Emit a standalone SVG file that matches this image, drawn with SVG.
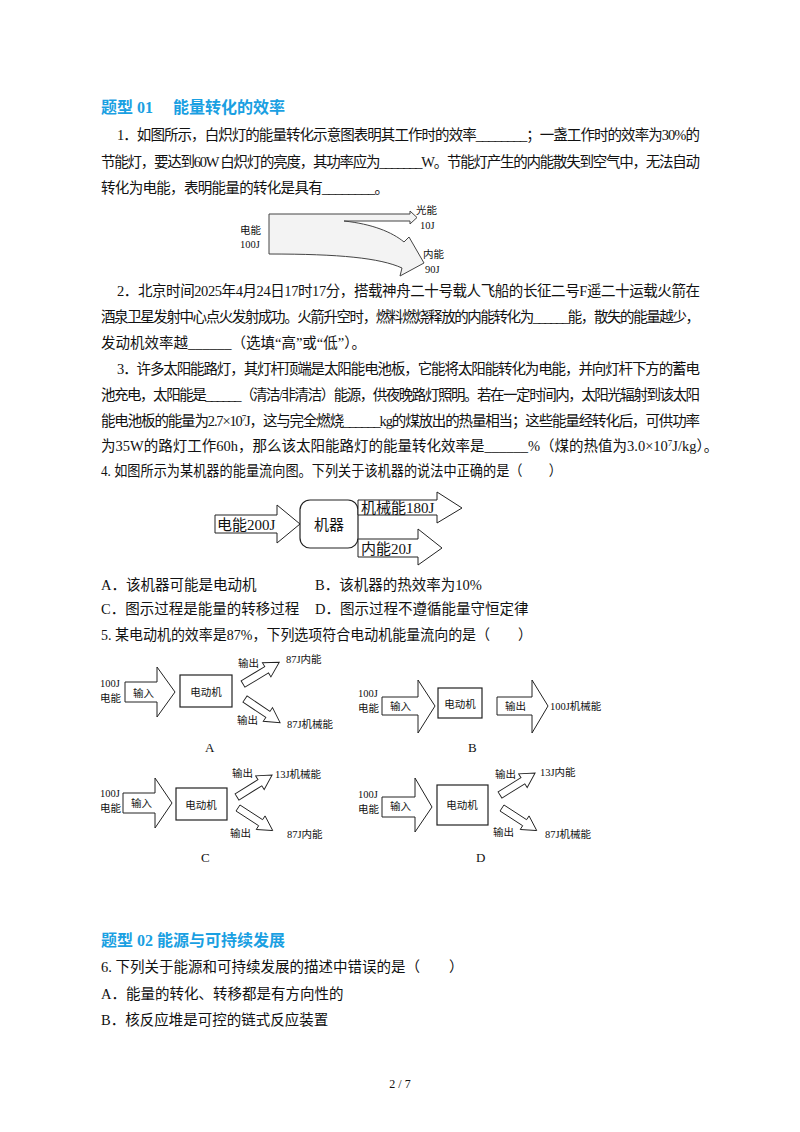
<svg xmlns="http://www.w3.org/2000/svg" xmlns:xlink="http://www.w3.org/1999/xlink" width="800" height="1132" viewBox="0 0 800 1132">
<style>
text{font-family:"Liberation Serif","Noto Sans CJK SC",serif;fill:#111}
.t{font-size:14.5px}
.h{font-size:16px;font-weight:bold;fill:#1aa0e2;font-family:"Liberation Serif","Noto Sans CJK SC",sans-serif}
.s{font-size:10.5px}
.m{font-size:15px}
.ar{fill:#fff;stroke:#222;stroke-width:1}
.bx{fill:#fff;stroke:#222;stroke-width:1.2}
</style>
<defs>
<path id="da" d="M0,-4 L30,-4 L30,-9 L46,0 L30,9 L30,4 L0,4 Z"/>
</defs>
<rect width="800" height="1132" fill="#fff"/>
<text class="h" x="101" y="113">题型 01　 能量转化的效率</text>
<text class="t" x="117" y="140" textLength="583" lengthAdjust="spacing">1．如图所示，白炽灯的能量转化示意图表明其工作时的效率________；一盏工作时的效率为30%的</text>
<text class="t" x="101" y="167" textLength="599" lengthAdjust="spacing">节能灯，要达到60W 白炽灯的亮度，其功率应为_______W。节能灯产生的内能散失到空气中，无法自动</text>
<text class="t" x="101" y="193" textLength="288" lengthAdjust="spacing">转化为电能，表明能量的转化是具有________。</text>

<g id="lamp">
<rect x="237" y="200" width="220" height="78" fill="#fff"/>
<path d="M269,214 L410,214 L410,211 L417,217.5 L410,224 L410,221 L344,221 C372,224 392,232 404,242 L409,237 L424,263 L400,276 L402,268 C380,258 340,254 269,254 Z" fill="#f3f3f3" stroke="#444" stroke-width="1"/>
<text class="s" x="240" y="234">电能</text>
<text class="s" x="240" y="248">100J</text>
<text class="s" x="416" y="214">光能</text>
<text class="s" x="420" y="229">10J</text>
<text class="s" x="423" y="258">内能</text>
<text class="s" x="425" y="273">90J</text>
</g>

<text class="t" x="117" y="296" textLength="583" lengthAdjust="spacing">2．北京时间2025年4月24日17时17分，搭载神舟二十号载人飞船的长征二号F遥二十运载火箭在</text>
<text class="t" x="101" y="322" textLength="599" lengthAdjust="spacing">酒泉卫星发射中心点火发射成功。火箭升空时，燃料燃烧释放的内能转化为______能，散失的能量越少，</text>
<text class="t" x="101" y="348">发动机效率越______（选填“高”或“低”）。</text>
<text class="t" x="117" y="374" textLength="583" lengthAdjust="spacing">3．许多太阳能路灯，其灯杆顶端是太阳能电池板，它能将太阳能转化为电能，并向灯杆下方的蓄电</text>
<text class="t" x="101" y="400" textLength="599" lengthAdjust="spacing">池充电，太阳能是______（清洁/非清洁）能源，供夜晚路灯照明。若在一定时间内，太阳光辐射到该太阳</text>
<text class="t" x="101" y="426" textLength="599" lengthAdjust="spacing">能电池板的能量为2.7×10<tspan dy="-5" font-size="9">7</tspan><tspan dy="5">J，这与完全燃烧______kg的煤放出的热量相当；这些能量经转化后，可供功率</tspan></text>
<text class="t" x="101" y="451">为35W的路灯工作60h，那么该太阳能路灯的能量转化效率是______%（煤的热值为3.0×10<tspan dy="-5" font-size="9">7</tspan><tspan dy="5">J/kg）。</tspan></text>
<text class="t" x="101" y="476" textLength="461" lengthAdjust="spacingAndGlyphs">4. 如图所示为某机器的能量流向图。下列关于该机器的说法中正确的是（　　）</text>

<g id="machine">
<path class="ar" d="M215,515 L277,515 L277,505 L300,524 L277,543 L277,533 L215,533 Z"/>
<rect class="bx" x="300" y="500" width="58" height="48" rx="10"/>
<path class="ar" d="M358,500 L437,500 L437,492 L462,508 L437,523 L437,515 L358,515 Z"/>
<path class="ar" d="M358,539 L418,539 L418,529 L442,548 L418,565 L418,557 L358,557 Z"/>
<text class="m" x="217" y="530">电能200J</text>
<text class="m" x="329" y="530" text-anchor="middle">机器</text>
<text class="m" x="361" y="513">机械能180J</text>
<text class="m" x="361" y="554">内能20J</text>
</g>

<text class="t" x="101" y="590">A．该机器可能是电动机</text>
<text class="t" x="315" y="590">B．该机器的热效率为10%</text>
<text class="t" x="101" y="614">C．图示过程是能量的转移过程</text>
<text class="t" x="315" y="614">D．图示过程不遵循能量守恒定律</text>
<text class="t" x="101" y="640" textLength="431" lengthAdjust="spacingAndGlyphs">5. 某电动机的效率是87%，下列选项符合电动机能量流向的是（　　）</text>

<g id="optA" class="s">
<text x="100" y="687">100J</text><text x="100" y="702">电能</text>
<path class="ar" d="M125,682 L157,682 L157,667 L175,692 L157,717 L157,702 L125,702 Z"/>
<text x="133" y="697">输入</text>
<rect class="bx" x="180" y="675" width="52" height="32"/>
<text x="206" y="696" text-anchor="middle">电动机</text>
<use href="#da" class="ar" transform="translate(243,684) rotate(-31) scale(0.92)"/>
<use href="#da" class="ar" transform="translate(245,699) rotate(34) scale(0.92)"/>
<text x="238" y="667">输出</text><text x="286" y="663">87J内能</text>
<text x="237" y="724">输出</text><text x="287" y="728">87J机械能</text>
<text x="205" y="752" font-size="13">A</text>
</g>

<g id="optB" class="s">
<text x="358" y="697">100J</text><text x="358" y="712">电能</text>
<path class="ar" d="M382,697 L418,697 L418,680 L435,706 L418,733 L418,715 L382,715 Z"/>
<text x="390" y="710">输入</text>
<rect class="bx" x="438" y="688" width="44" height="30"/>
<text x="460" y="708" text-anchor="middle">电动机</text>
<path class="ar" d="M497,697 L532,697 L532,680 L548,706 L532,733 L532,715 L497,715 Z"/>
<text x="505" y="710">输出</text>
<text x="550" y="710">100J机械能</text>
<text x="468" y="752" font-size="13">B</text>
</g>

<g id="optC" class="s">
<text x="100" y="797">100J</text><text x="100" y="812">电能</text>
<path class="ar" d="M123,793 L155,793 L155,778 L172,803 L155,828 L155,813 L123,813 Z"/>
<text x="131" y="807">输入</text>
<rect class="bx" x="176" y="788" width="51" height="32"/>
<text x="201" y="809" text-anchor="middle">电动机</text>
<use href="#da" class="ar" transform="translate(237,797) rotate(-32) scale(0.9)"/>
<use href="#da" class="ar" transform="translate(238,808) rotate(33) scale(0.9)"/>
<text x="232" y="777">输出</text><text x="275" y="778">13J机械能</text>
<text x="230" y="837">输出</text><text x="287" y="838">87J内能</text>
<text x="201" y="862" font-size="13">C</text>
</g>

<g id="optD" class="s">
<text x="358" y="798">100J</text><text x="358" y="813">电能</text>
<path class="ar" d="M382,797 L415,797 L415,778 L432,807 L415,832 L415,817 L382,817 Z"/>
<text x="390" y="810">输入</text>
<rect class="bx" x="437" y="785" width="51" height="40"/>
<text x="462" y="809" text-anchor="middle">电动机</text>
<use href="#da" class="ar" transform="translate(500,795) rotate(-32) scale(0.9)"/>
<use href="#da" class="ar" transform="translate(502,808) rotate(33) scale(0.9)"/>
<text x="495" y="778">输出</text><text x="540" y="776">13J内能</text>
<text x="493" y="836">输出</text><text x="545" y="838">87J机械能</text>
<text x="476" y="862" font-size="13">D</text>
</g>

<text class="h" x="101" y="946">题型 02 能源与可持续发展</text>
<text class="t" x="101" y="972">6. 下列关于能源和可持续发展的描述中错误的是（　　）</text>
<text class="t" x="101" y="999">A．能量的转化、转移都是有方向性的</text>
<text class="t" x="101" y="1025">B．核反应堆是可控的链式反应装置</text>
<text x="400" y="1088" font-size="12" text-anchor="middle">2 / 7</text>
</svg>
